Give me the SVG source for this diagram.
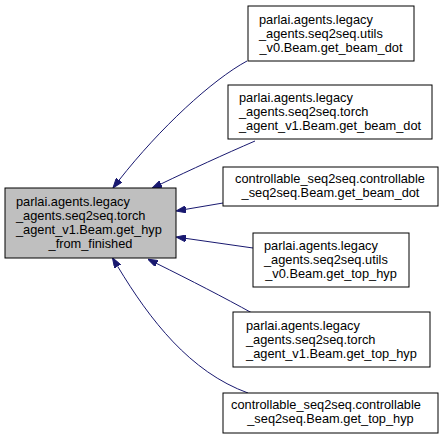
<svg xmlns="http://www.w3.org/2000/svg" width="444" height="439" viewBox="0 0 444 439">
<style>
.node rect{fill:#ffffff;stroke:#000000;stroke-width:1}
.node.main rect{fill:#bfbfbf}
text{font-family:"Liberation Sans",Arial,Helvetica,sans-serif;font-size:12.8px;fill:#000000}
.mid{text-anchor:middle}
.edges path{fill:none;stroke:#191970;stroke-width:1}
</style>
<defs>
<marker id="ah" viewBox="0 0 10 7" refX="0" refY="3.5" markerWidth="10" markerHeight="7" markerUnits="userSpaceOnUse" orient="auto">
<path d="M0,0 L10,3.5 L0,7 z" fill="#191970" stroke="#191970"/>
</marker>
</defs>
<rect width="444" height="439" fill="#ffffff"/>
<g class="edges">
<path d="M247,61 C212,80 160,128 119.1,180.1" marker-end="url(#ah)"/>
<path d="M255,141 C225,154 190,170 161.1,183.9" marker-end="url(#ah)"/>
<path d="M223,203 L185.9,209.3" marker-end="url(#ah)"/>
<path d="M253,248 L185.9,238.4" marker-end="url(#ah)"/>
<path d="M252,313 C225,298 190,280 156.9,263.6" marker-end="url(#ah)"/>
<path d="M248,393 C190,372 150,320 117.6,266.3" marker-end="url(#ah)"/>
</g>
<g id="main" class="node main">
<rect x="5" y="188" width="171" height="70"/>
<text x="16" y="206">parlai.agents.legacy</text>
<text x="16" y="220">_agents.seq2seq.torch</text>
<text x="16" y="234">_agent_v1.Beam.get_hyp</text>
<text x="90.5" y="248" class="mid">_from_finished</text>
</g>
<g id="n1" class="node">
<rect x="248" y="6" width="166" height="55"/>
<text x="259" y="24">parlai.agents.legacy</text>
<text x="259" y="38">_agents.seq2seq.utils</text>
<text x="331" y="52" class="mid">_v0.Beam.get_beam_dot</text>
</g>
<g id="n2" class="node">
<rect x="228" y="85" width="204" height="54"/>
<text x="239" y="102">parlai.agents.legacy</text>
<text x="239" y="116">_agents.seq2seq.torch</text>
<text x="330" y="130" class="mid">_agent_v1.Beam.get_beam_dot</text>
</g>
<g id="n3" class="node">
<rect x="223" y="167" width="215" height="39"/>
<text x="235" y="183">controllable_seq2seq.controllable</text>
<text x="330.5" y="197" class="mid">_seq2seq.Beam.get_beam_dot</text>
</g>
<g id="n4" class="node">
<rect x="253" y="233" width="156" height="54"/>
<text x="264" y="250">parlai.agents.legacy</text>
<text x="264" y="264">_agents.seq2seq.utils</text>
<text x="331" y="278" class="mid">_v0.Beam.get_top_hyp</text>
</g>
<g id="n5" class="node">
<rect x="233" y="312" width="197" height="55"/>
<text x="246" y="330">parlai.agents.legacy</text>
<text x="246" y="344">_agents.seq2seq.torch</text>
<text x="331.5" y="358" class="mid">_agent_v1.Beam.get_top_hyp</text>
</g>
<g id="n6" class="node">
<rect x="223" y="393" width="215" height="40"/>
<text x="231" y="409">controllable_seq2seq.controllable</text>
<text x="330.5" y="423" class="mid">_seq2seq.Beam.get_top_hyp</text>
</g>
</svg>
